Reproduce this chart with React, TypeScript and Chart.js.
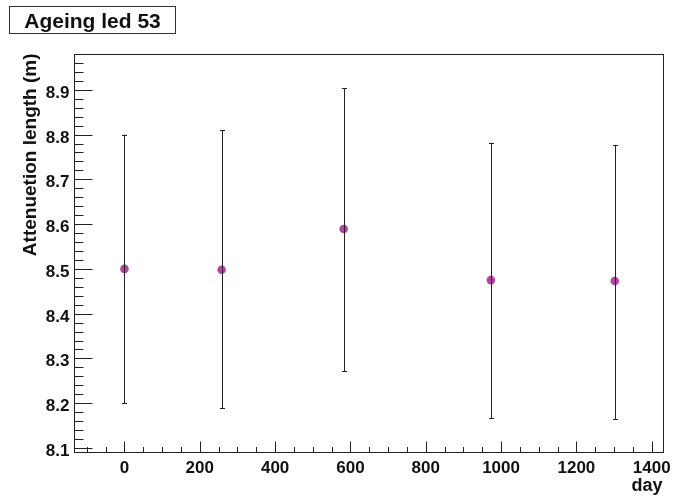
import React, { useEffect, useRef } from "react";
import { Chart, registerables } from "chart.js";

Chart.register(...registerables);

const chartTitle = "Ageing led 53";
const xTitle = "day";
const yTitle = "Attenuetion length (m)";

const days = [0, 258, 582, 973, 1302];
const attLength = [8.5, 8.498, 8.589, 8.475, 8.473];
const errHigh = [0.3, 0.312, 0.315, 0.307, 0.304];
const errLow = [0.3, 0.309, 0.317, 0.308, 0.308];

const xMajorTicks = [0, 200, 400, 600, 800, 1000, 1200, 1400];
const yMajorTicks = [8.1, 8.2, 8.3, 8.4, 8.5, 8.6, 8.7, 8.8, 8.9];
const xMinorStep = 50;
const yMinorStep = 0.02;

const xMin = -134;
const xMax = 1430;
const yMin = 8.091;
const yMax = 8.98;

const FONT = "'Liberation Sans', Arial, Helvetica, sans-serif";

const rootStylePlugin = {
  id: "rootStyle",
  afterDatasetsDraw(chart: any) {
    const ctx = chart.ctx;
    const xs = chart.scales.x;
    const ys = chart.scales.y;
    ctx.save();
    ctx.strokeStyle = "#222";
    ctx.lineWidth = 1;
    for (let i = 0; i < days.length; i++) {
      const px = Math.round(xs.getPixelForValue(days[i])) + 0.5;
      const top = ys.getPixelForValue(attLength[i] + errHigh[i]);
      const bot = ys.getPixelForValue(attLength[i] - errLow[i]);
      ctx.beginPath();
      ctx.moveTo(px, top);
      ctx.lineTo(px, bot);
      ctx.moveTo(px - 2.5, Math.round(top) + 0.5);
      ctx.lineTo(px + 2.5, Math.round(top) + 0.5);
      ctx.moveTo(px - 2.5, Math.round(bot) + 0.5);
      ctx.lineTo(px + 2.5, Math.round(bot) + 0.5);
      ctx.stroke();
    }
    ctx.restore();
  },
  afterDraw(chart: any) {
    const ctx = chart.ctx;
    const a = chart.chartArea;
    const xs = chart.scales.x;
    const ys = chart.scales.y;
    const L = Math.round(a.left) + 0.5;
    const R = Math.round(a.right) + 0.5;
    const T = Math.round(a.top) + 0.5;
    const B = Math.round(a.bottom) + 0.5;
    ctx.save();
    ctx.strokeStyle = "#222";
    ctx.lineWidth = 1;
    ctx.strokeRect(L, T, R - L, B - T);

    // x ticks
    ctx.beginPath();
    const xStart = Math.ceil(xMin / xMinorStep) * xMinorStep;
    for (let v = xStart; v <= xMax; v += xMinorStep) {
      const px = Math.round(xs.getPixelForValue(v)) + 0.5;
      const major = xMajorTicks.includes(v);
      ctx.moveTo(px, B);
      ctx.lineTo(px, B - (major ? 11 : 5.5));
    }
    // y ticks
    const nMinor = Math.round((yMax - 8.1) / yMinorStep);
    for (let k = -1; k <= nMinor; k++) {
      const v = 8.1 + k * yMinorStep;
      if (v < yMin || v > yMax) continue;
      const py = Math.round(ys.getPixelForValue(v)) + 0.5;
      const major = k % 5 === 0;
      ctx.moveTo(L, py);
      ctx.lineTo(L + (major ? 18 : 9), py);
    }
    ctx.stroke();

    // tick labels
    ctx.fillStyle = "#111";
    ctx.font = `bold 17px ${FONT}`;
    ctx.textAlign = "center";
    ctx.textBaseline = "alphabetic";
    xMajorTicks.forEach((v) => {
      ctx.fillText(String(v), xs.getPixelForValue(v), B + 20);
    });
    ctx.textAlign = "right";
    yMajorTicks.forEach((v) => {
      ctx.fillText(v.toFixed(1), L - 5, ys.getPixelForValue(v) + 8);
    });

    // axis titles
    ctx.font = `bold 18px ${FONT}`;
    ctx.textAlign = "right";
    ctx.fillText(xTitle, R - 1, B + 38);
    ctx.save();
    ctx.font = `bold 19px ${FONT}`;
    ctx.translate(36, T - 1);
    ctx.rotate(-Math.PI / 2);
    ctx.textAlign = "right";
    ctx.fillText(yTitle, 0, 0);
    ctx.restore();

    // title box
    ctx.fillStyle = "#fff";
    ctx.fillRect(9.5, 6.5, 166, 27);
    ctx.strokeStyle = "#333";
    ctx.strokeRect(9.5, 6.5, 166, 27);
    ctx.fillStyle = "#111";
    ctx.font = `bold 21px ${FONT}`;
    ctx.textAlign = "center";
    ctx.fillText(chartTitle, 92.5, 27.5);
    ctx.restore();
  },
};

export default function App() {
  const canvasRef = useRef<HTMLCanvasElement | null>(null);

  useEffect(() => {
    const canvas = canvasRef.current;
    if (!canvas) return;
    const chart = new Chart(canvas, {
      type: "scatter",
      data: {
        datasets: [
          {
            label: "attenuation",
            data: days.map((d, i) => ({ x: d, y: attLength[i] })),
            pointRadius: 4.3,
            pointBackgroundColor: "rgb(182, 66, 162)",
            pointBorderColor: "rgb(182, 66, 162)",
            pointBorderWidth: 0,
            showLine: false,
          },
        ],
      },
      options: {
        animation: false,
        responsive: false,
        devicePixelRatio: 1,
        layout: { padding: { left: 74, top: 54, right: 12, bottom: 45 } },
        plugins: {
          legend: { display: false },
          title: { display: false },
          tooltip: { enabled: false },
        },
        events: [],
        scales: {
          x: { type: "linear", min: xMin, max: xMax, display: false },
          y: { type: "linear", min: yMin, max: yMax, display: false },
        },
      },
      plugins: [rootStylePlugin],
    });
    return () => chart.destroy();
  }, []);

  return (
    <div style={{ position: "fixed", left: 0, top: 0, width: 675, height: 497, background: "#fff" }}>
      <canvas ref={canvasRef} width={675} height={497} style={{ display: "block" }} />
    </div>
  );
}
